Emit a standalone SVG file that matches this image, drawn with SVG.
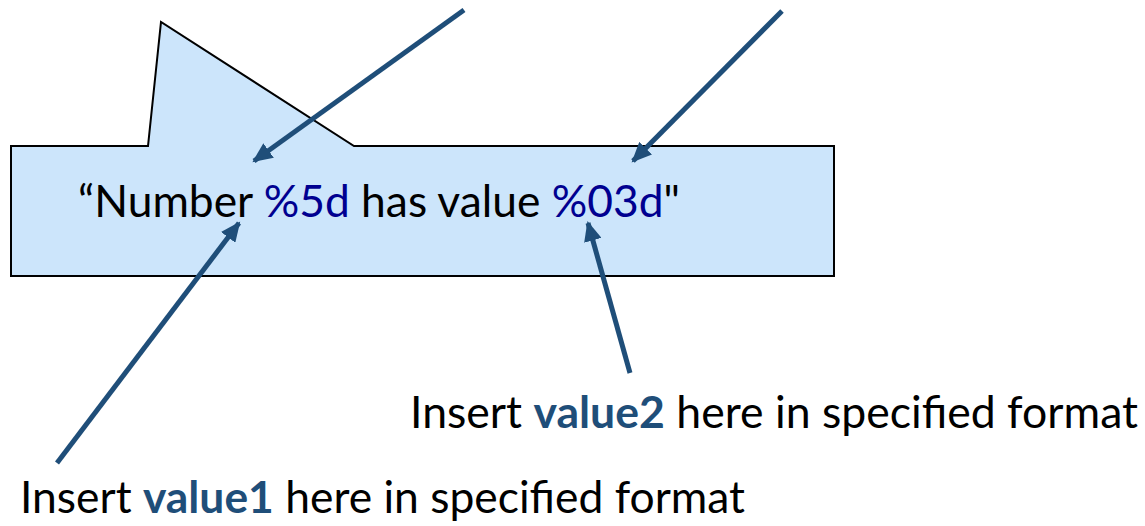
<svg xmlns="http://www.w3.org/2000/svg" width="1145" height="526" viewBox="0 0 1145 526">
<style>
.t{font-family:Lato,"Open Sans","Liberation Sans",sans-serif;font-size:44px;fill:#000}
.fmt{fill:#000090}
.val{fill:#1f4e79;font-weight:bold}
.conn{stroke:#1f4e79;stroke-width:5;fill:none}
</style>
<defs>
<marker id="ah" markerUnits="userSpaceOnUse" markerWidth="22" markerHeight="18" refX="18" refY="9" orient="auto">
<path d="M0,0 L20,9 L0,18 Z" fill="#1f4e79"/>
</marker>
</defs>
<g id="callout">
<path d="M11,146 L148,146 L161,22 L354,146 L834,146 L834,276 L11,276 Z" fill="#cce5fb" stroke="#000" stroke-width="2"/>
<text class="t" x="78" y="217" textLength="602" lengthAdjust="spacingAndGlyphs">“Number <tspan class="fmt">%5d</tspan> has value <tspan class="fmt">%03d</tspan>"</text>
</g>
<g id="label2">
<text class="t" x="410" y="428" textLength="728" lengthAdjust="spacingAndGlyphs">Insert <tspan class="val">value2</tspan> here in specified format</text>
</g>
<g id="label1">
<text class="t" x="20" y="513" textLength="725" lengthAdjust="spacingAndGlyphs">Insert <tspan class="val">value1</tspan> here in specified format</text>
</g>
<g id="connectors">
<line class="conn" x1="464" y1="10" x2="254" y2="161" marker-end="url(#ah)"/>
<line class="conn" x1="782" y1="11" x2="633" y2="161" marker-end="url(#ah)"/>
<line class="conn" x1="57" y1="463" x2="239" y2="223" marker-end="url(#ah)"/>
<line class="conn" x1="630" y1="373" x2="588" y2="223" marker-end="url(#ah)"/>
</g>
</svg>
